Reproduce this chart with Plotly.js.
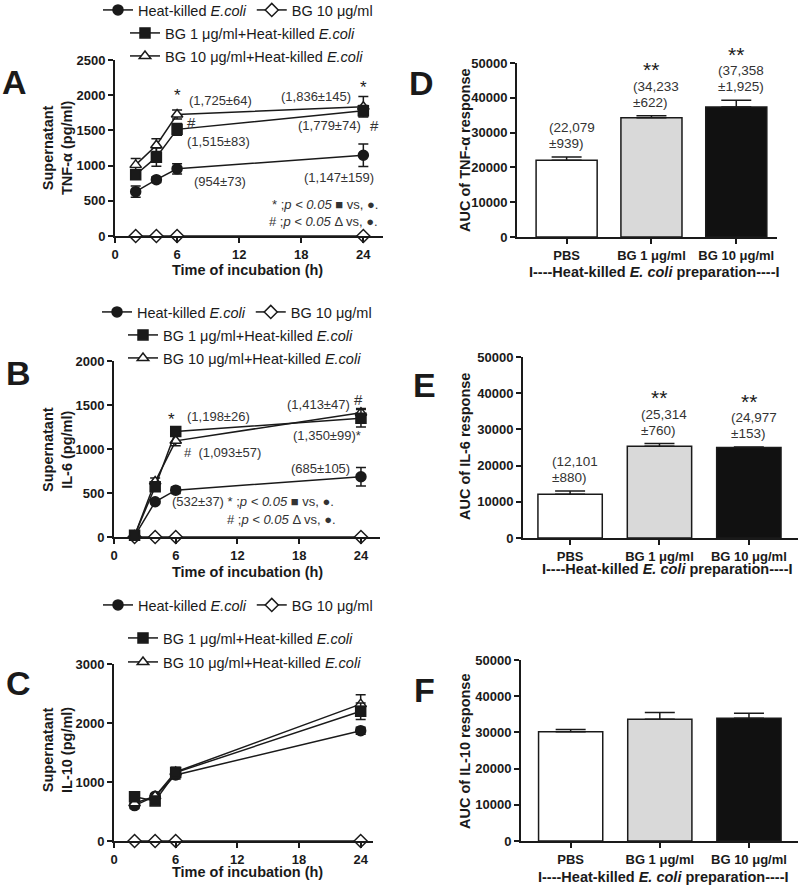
<!DOCTYPE html>
<html>
<head>
<meta charset="utf-8">
<script src="https://cdn.plot.ly/plotly-3.0.1.min.js"></script>
<style>
  body { margin: 0; background: #fff; }
  #chart { width: 800px; height: 888px; }
</style>
</head>
<body>
<div id="chart"></div>
<script>
var FONT = 'Arial, "Liberation Sans", sans-serif';
var INK = '#1a1a1a';

// time course (h)
var hours = [2, 4, 6, 24];

// A: TNF-alpha (pg/ml)
var tnfHk = [630, 800, 954, 1147];
var tnfHkErr = [80, 40, 73, 159];
var tnfBg1 = [870, 1120, 1515, 1779];
var tnfBg1Err = [60, 130, 83, 74];
var tnfBg10 = [1010, 1290, 1725, 1836];
var tnfBg10Err = [90, 90, 64, 145];
var tnfBgOnly = [0, 0, 0, 0];

// B: IL-6 (pg/ml)
var il6Hk = [10, 400, 532, 685];
var il6HkErr = [10, 20, 37, 105];
var il6Bg1 = [20, 570, 1198, 1350];
var il6Bg1Err = [10, 30, 26, 99];
var il6Bg10 = [15, 630, 1093, 1413];
var il6Bg10Err = [10, 40, 57, 47];
var il6BgOnly = [0, 0, 0, 0];

// C: IL-10 (pg/ml)
var il10Hk = [600, 760, 1120, 1870];
var il10HkErr = [50, 40, 70, 60];
var il10Bg1 = [750, 680, 1160, 2200];
var il10Bg1Err = [50, 40, 80, 140];
var il10Bg10 = [640, 760, 1170, 2320];
var il10Bg10Err = [60, 40, 80, 160];
var il10BgOnly = [0, 0, 0, 0];

// D-F: area under curve
var groups = ['PBS', 'BG 1 μg/ml', 'BG 10 μg/ml'];
var aucTnf = [22079, 34233, 37358];
var aucTnfErr = [939, 622, 1925];
var aucIl6 = [12101, 25314, 24977];
var aucIl6Err = [880, 760, 153];
var aucIl10 = [30200, 33600, 33900];
var aucIl10Err = [600, 1900, 1400];

var seriesNames = [
  'Heat-killed <i>E.coli</i>',
  'BG 10 μg/ml',
  'BG 1 μg/ml+Heat-killed <i>E.coli</i>',
  'BG 10 μg/ml+Heat-killed <i>E.coli</i>'
];
var barFills = ['#ffffff', '#d9d9d9', '#111111'];

function px(x) { return x / 800; }
function py(y) { return 1 - y / 888; }
function fmt(v) { return v.toLocaleString('en-US'); }
function pm(v, e) { return '(' + fmt(v) + '±' + fmt(e) + ')'; }

var axisStyle = {
  showline: true, linecolor: INK, linewidth: 2,
  ticks: 'outside', ticklen: 5, tickwidth: 2, tickcolor: INK,
  showgrid: false, zeroline: false, fixedrange: true,
  tickfont: {family: FONT, size: 13, weight: 'bold', color: INK}
};
function axis(extra) { return Object.assign({}, axisStyle, extra); }

function lineTrace(y, err, symbol, fill, name, xa, ya, legend) {
  var t = {
    x: hours, y: y, name: name, type: 'scatter', mode: 'lines+markers',
    xaxis: xa, yaxis: ya, legend: legend, cliponaxis: false,
    line: {color: INK, width: 1.5},
    marker: {symbol: symbol, size: 10, color: fill, line: {color: INK, width: 1.5}}
  };
  if (err) t.error_y = {type: 'data', array: err, color: INK, thickness: 1.5, width: 5};
  return t;
}

var linePanels = [
  {xa: 'x', ya: 'y', lg: ['legend', 'legend2', 'legend3'],
   hk: tnfHk, hkErr: tnfHkErr, bg1: tnfBg1, bg1Err: tnfBg1Err, bg10: tnfBg10, bg10Err: tnfBg10Err, bg: tnfBgOnly},
  {xa: 'x2', ya: 'y2', lg: ['legend4', 'legend5', 'legend6'],
   hk: il6Hk, hkErr: il6HkErr, bg1: il6Bg1, bg1Err: il6Bg1Err, bg10: il6Bg10, bg10Err: il6Bg10Err, bg: il6BgOnly},
  {xa: 'x3', ya: 'y3', lg: ['legend7', 'legend8', 'legend9'],
   hk: il10Hk, hkErr: il10HkErr, bg1: il10Bg1, bg1Err: il10Bg1Err, bg10: il10Bg10, bg10Err: il10Bg10Err, bg: il10BgOnly}
];

var traces = [];
linePanels.forEach(function(p) {
  traces.push(lineTrace(p.hk, p.hkErr, 'circle', INK, seriesNames[0], p.xa, p.ya, p.lg[0]));
  traces.push(lineTrace(p.bg, null, 'diamond', '#fff', seriesNames[1], p.xa, p.ya, p.lg[0]));
  traces.push(lineTrace(p.bg10, p.bg10Err, 'triangle-up', '#fff', seriesNames[3], p.xa, p.ya, p.lg[2]));
  traces.push(lineTrace(p.bg1, p.bg1Err, 'square', INK, seriesNames[2], p.xa, p.ya, p.lg[1]));
});

var barPanels = [
  {xa: 'x4', ya: 'y4', y: aucTnf, err: aucTnfErr, labels: true, stars: ['', '**', '**']},
  {xa: 'x5', ya: 'y5', y: aucIl6, err: aucIl6Err, labels: true, stars: ['', '**', '**']},
  {xa: 'x6', ya: 'y6', y: aucIl10, err: aucIl10Err, labels: false, stars: ['', '', '']}
];
barPanels.forEach(function(p) {
  traces.push({
    type: 'bar', x: groups, y: p.y, xaxis: p.xa, yaxis: p.ya, width: 0.72, showlegend: false,
    marker: {color: barFills, line: {color: INK, width: 1.5}},
    error_y: {type: 'data', symmetric: false, array: p.err, arrayminus: [0, 0, 0],
              color: INK, thickness: 1.5, width: 15}
  });
});

function legendAt(x, y) {
  return {
    x: px(x), y: py(y), xanchor: 'left', yanchor: 'middle', orientation: 'h',
    bgcolor: 'rgba(0,0,0,0)', borderwidth: 0, itemclick: false, itemdoubleclick: false,
    font: {family: FONT, size: 14.5, color: INK}, itemwidth: 30, tracegroupgap: 0
  };
}

var timeTicks = [0, 6, 12, 18, 24];
var layout = {
  width: 800, height: 888,
  margin: {l: 0, r: 0, t: 0, b: 0, autoexpand: false},
  paper_bgcolor: '#fff', plot_bgcolor: 'rgba(0,0,0,0)',
  font: {family: FONT, color: INK},
  bargap: 0,
  xaxis: axis({domain: [px(115), px(383)], anchor: 'y', range: [0, 25.9], tickvals: timeTicks}),
  yaxis: axis({domain: [py(236), py(60)], anchor: 'x', range: [0, 2500], dtick: 500}),
  xaxis2: axis({domain: [px(114), px(380)], anchor: 'y2', range: [0, 25.85], tickvals: timeTicks}),
  yaxis2: axis({domain: [py(537), py(361)], anchor: 'x2', range: [0, 2000], dtick: 500}),
  xaxis3: axis({domain: [px(114), px(373)], anchor: 'y3', range: [0, 25.2], tickvals: timeTicks}),
  yaxis3: axis({domain: [py(841), py(664)], anchor: 'x3', range: [0, 3000], dtick: 1000}),
  xaxis4: axis({domain: [px(517), px(777)], anchor: 'y4', type: 'category', range: [-0.585, 2.48]}),
  yaxis4: axis({domain: [py(237), py(63)], anchor: 'x4', range: [0, 50000], dtick: 10000, tickformat: 'd'}),
  xaxis5: axis({domain: [px(523), px(798)], anchor: 'y5', type: 'category', range: [-0.527, 2.55]}),
  yaxis5: axis({domain: [py(538), py(357)], anchor: 'x5', range: [0, 50000], dtick: 10000, tickformat: 'd'}),
  xaxis6: axis({domain: [px(521), px(798)], anchor: 'y6', type: 'category', range: [-0.557, 2.55]}),
  yaxis6: axis({domain: [py(841), py(660)], anchor: 'x6', range: [0, 50000], dtick: 10000, tickformat: 'd'}),
  legend: legendAt(98, 10), legend2: legendAt(125, 33), legend3: legendAt(125, 56),
  legend4: legendAt(97, 312), legend5: legendAt(123, 335), legend6: legendAt(123, 358),
  legend7: legendAt(98, 605), legend8: legendAt(123, 638), legend9: legendAt(123, 662),
  annotations: []
};

var ann = layout.annotations;
function note(text, x, y, opts) {
  ann.push(Object.assign({
    text: text, x: x, y: y, showarrow: false, xanchor: 'center', yanchor: 'middle',
    font: {family: FONT, size: 13, color: '#333'}
  }, opts));
}
function paperNote(text, x, y, opts) {
  note(text, px(x), py(y), Object.assign({xref: 'paper', yref: 'paper'}, opts));
}
var boldTitle = {family: FONT, size: 14.5, color: INK, weight: 'bold'};
var bigLetter = {family: FONT, size: 34, color: INK, weight: 'bold'};
var star = {family: FONT, size: 17, color: INK};
var hash = {family: FONT, size: 15, color: '#333'};

// panel letters
[['A', 14, 82], ['B', 18, 373], ['C', 18, 683], ['D', 421, 83], ['E', 424, 385], ['F', 424, 690]]
  .forEach(function(l) { paperNote(l[0], l[1], l[2], {font: bigLetter}); });

// axis titles
var yTitles = [
  ['Supernatant<br>TNF-α (pg/ml)', 58, 148],
  ['Supernatant<br>IL-6 (pg/ml)', 57, 449],
  ['Supernatant<br>IL-10 (pg/ml)', 57, 750]
];
yTitles.forEach(function(t) { paperNote(t[0], t[1], t[2], {textangle: -90, font: boldTitle}); });
[270, 572, 872].forEach(function(y) { paperNote('Time of incubation (h)', 247, y, {font: boldTitle}); });
[['AUC of TNF-α response', 150], ['AUC of IL-6 response', 447], ['AUC of IL-10 response', 751]]
  .forEach(function(t) { paperNote(t[0], 465, t[1], {textangle: -90, font: boldTitle}); });
[[654, 272], [667, 569], [663, 877]].forEach(function(p) {
  paperNote('I----Heat-killed <i>E. coli</i> preparation----I', p[0], p[1], {font: boldTitle});
});

// A labels
var A = {xref: 'x', yref: 'y'};
var pA = ';<i>p < 0.05</i>';
note('*', 6, 1990, Object.assign({font: star}, A));
note(pm(tnfBg10[2], tnfBg10Err[2]), 7.0, 1931, Object.assign({xanchor: 'left'}, A));
note(pm(tnfBg10[3], tnfBg10Err[3]), 23.0, 1988, Object.assign({xanchor: 'right'}, A));
note('*', 24, 2110, Object.assign({font: star}, A));
note('#', 7.44, 1610, Object.assign({font: hash}, A));
note(pm(tnfBg1[3], tnfBg1Err[3]), 23.96, 1576, Object.assign({xanchor: 'right'}, A));
note('#', 25.1, 1576, Object.assign({font: hash}, A));
note(pm(tnfBg1[2], tnfBg1Err[2]), 6.76, 1339, Object.assign({xanchor: 'left'}, A));
note(pm(tnfHk[2], tnfHkErr[2]), 7.44, 771, Object.assign({xanchor: 'left'}, A));
note(pm(tnfHk[3], tnfHkErr[3]), 21.6, 834, A);
note('* ' + pA + ' ■ vs, ●.', 25.6, 454, Object.assign({xanchor: 'right'}, A));
note('# ' + pA + ' Δ vs, ●.', 25.6, 203, Object.assign({xanchor: 'right'}, A));

// B labels
var B = {xref: 'x2', yref: 'y2'};
note('*', 5.6, 1340, Object.assign({font: star}, B));
note(pm(il6Bg1[2], il6Bg1Err[2]), 6.9, 1370, Object.assign({xanchor: 'left'}, B));
note(pm(il6Bg10[3], il6Bg10Err[3]), 23.1, 1503, Object.assign({xanchor: 'right'}, B));
note('#', 23.8, 1560, Object.assign({font: hash}, B));
note(pm(il6Bg1[3], il6Bg1Err[3]) + '*', 24.2, 1151, Object.assign({xanchor: 'right'}, B));
note('#  ' + pm(il6Bg10[2], il6Bg10Err[2]), 6.6, 961, Object.assign({xanchor: 'left'}, B));
note(pm(il6Hk[3], il6HkErr[3]), 23.1, 784, Object.assign({xanchor: 'right'}, B));
note(pm(il6Hk[2], il6HkErr[2]) + ' * ' + pA + ' ■ vs, ●.', 5.4, 404, Object.assign({xanchor: 'left'}, B));
note('# ' + pA + ' Δ vs, ●.', 10.8, 196, Object.assign({xanchor: 'left'}, B));

// bar labels: two lines placed one by one, tighter than Plotly's line height
var barLabelFont = {family: FONT, size: 13.5, color: '#333'};
barPanels.forEach(function(p) {
  groups.forEach(function(g, i) {
    var top = p.y[i] + p.err[i];
    var ref = {xref: p.xa, yref: p.ya, xanchor: 'left', xshift: -20, font: barLabelFont};
    if (p.labels) {
      note('(' + fmt(p.y[i]), i, top, Object.assign({yshift: 29.5}, ref));
      note('±' + fmt(p.err[i]) + ')', i, top, Object.assign({yshift: 13.5}, ref));
    }
    if (p.stars[i]) {
      note(p.stars[i], i, top, {xref: p.xa, yref: p.ya, yshift: 46,
           font: {family: FONT, size: 21, color: INK}});
    }
  });
});

Plotly.newPlot('chart', traces, layout, {displayModeBar: false, staticPlot: true});
</script>
</body>
</html>
